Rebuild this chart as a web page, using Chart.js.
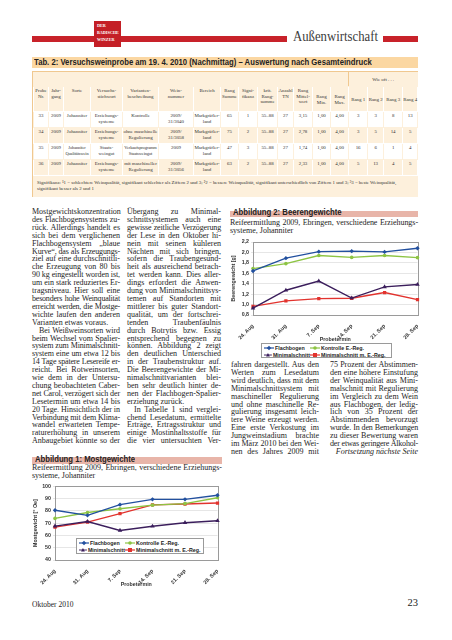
<!DOCTYPE html>
<html lang="de">
<head>
<meta charset="UTF-8">
<meta name="viewport" content="width=device-width, initial-scale=1.0">
<title>Außenwirtschaft – Mostgewichte und Beerengewichte</title>
<script src="https://cdn.jsdelivr.net/npm/chart.js"></script>
<style>
  body { margin: 0; width: 452px; height: 640px; position: relative; overflow: hidden; background: #fff; color: #222; font-family: "Liberation Serif", serif; }
  .abs { position: absolute; }
  .bar { position: absolute; top: 36px; height: 6px; background: #c8222a; }
  #logo { left: 94px; top: 21px; width: 27px; height: 26px; background: #c41f26; color: #fff; font: bold 4.2px/7px "Liberation Serif", serif; padding: 1px 0 0 3px; box-sizing: border-box; }
  .fit { white-space: nowrap; display: inline-block; transform-origin: left center; }
  #ressort { left: 293px; top: 28px; font: 15px "Liberation Serif", serif; color: #3c3c3c; }
  #tabtitle { left: 32px; top: 57px; width: 386px; height: 11px; background: #fbd7a2; font: bold 8.5px/11px "Liberation Sans", sans-serif; padding-left: 2px; box-sizing: border-box; }
  #tab { left: 32px; top: 71px; width: 386px; height: 126px; border: 1px solid #f0c890; box-sizing: border-box; background: #fdf0dc; }
  #tab table { border-collapse: collapse; table-layout: fixed; width: 384px; font: 4.9px/5.6px "Liberation Serif", serif; color: #333; }
  #tab td { border: 1px solid #fff; text-align: center; vertical-align: top; padding: 1px 0 0 0; white-space: nowrap; }
  #tab td.sm { font-size: 4.4px; letter-spacing: -0.1px; }
  #tab tr.w td { background: #fff; border-color: #fdf0dc; }
  #tab td.note { text-align: left; vertical-align: middle; padding: 0 3px; line-height: 6px; white-space: normal; }
  .fig { height: 10px; font: bold 9px/10px "Liberation Sans", sans-serif; color: #222; background: linear-gradient(to bottom, transparent 0, transparent 35%, #e8b5a9 35%, #e8b5a9 100%); padding-left: 3px; box-sizing: border-box; }
  .col { position: absolute; font-size: 8px; line-height: 7.9px; color: #1e1e1e; }
  .cap { font-size: 8px; line-height: 8.2px; }
  .ln { text-align: justify; text-align-last: justify; }
  .ln.end { text-align-last: left; }
  .ln.ind { text-indent: 7px; }
  .ln.right { text-align-last: right; font-style: italic; }
  .chartbox { position: absolute; }
  .legend { position: absolute; background: #fff; border: 1px solid #9a9a9a; box-sizing: border-box; display: grid; grid-template-columns: 46px auto; font: bold 5.3px/6.6px "Liberation Sans", sans-serif; color: #222; padding: 1px 0 0 2px; }
  .legend span { display: flex; align-items: center; white-space: nowrap; }
  .legend svg { margin-right: 1px; }
</style>
</head>
<body>
  <div class="bar" style="left:32px;width:255px"></div>
  <div class="bar" style="left:383px;width:35px"></div>
  <div id="logo" class="abs">DER<br>BADISCHE<br>WINZER</div>
  <div id="ressort" class="abs"><span class="fit" data-w="85">Außenwirtschaft</span></div>

  <div id="tabtitle" class="abs"><span class="fit" data-w="338">Tab. 2: Versuchsweinprobe am 19. 4. 2010 (Nachmittag) – Auswertung nach Gesamteindruck</span></div>
  <div id="tab" class="abs">
    <table>
      <colgroup>
        <col style="width:15px"><col style="width:15px"><col style="width:27px"><col style="width:32px"><col style="width:36px"><col style="width:35px"><col style="width:27px"><col style="width:18px"><col style="width:19px"><col style="width:20px"><col style="width:16px"><col style="width:19px"><col style="width:18px"><col style="width:18px"><col style="width:19px"><col style="width:16px"><col style="width:19px"><col style="width:15px">
      </colgroup>
      <tr style="height:14px"><td colspan="14" style="border-color:#fdf0dc;border-right-color:#f0c890"></td><td colspan="4" style="border-color:#fdf0dc;vertical-align:middle">Wie oft . . .</td></tr>
      <tr style="height:25px">
        <td>Probe<br>Nr.</td><td>Jahr-<br>gang</td><td>Sorte</td><td>Versuchs-<br>stichwort</td><td>Varianten-<br>beschreibung</td><td>Wein-<br>nummer</td><td>Bereich</td><td>Rang<br>Summe</td><td>Signi-<br>fikanz</td><td>krit.<br>Rang-<br>summe</td><td>Anzahl<br>TN</td><td>Rang<br>Mittel-<br>wert</td><td style="vertical-align:middle">Rang<br>Min.</td><td style="vertical-align:middle">Rang<br>Max.</td><td style="vertical-align:middle">Rang 1</td><td style="vertical-align:middle">Rang 2</td><td style="vertical-align:middle">Rang 3</td><td style="vertical-align:middle">Rang 4</td>
      </tr>
      <tr class="w" style="height:16px"><td>33</td><td>2009</td><td>Johanniter</td><td>Erziehungs-<br>systeme</td><td>Kontrolle</td><td>2009/<br>31/3040</td><td>Markgräfler-<br>land</td><td>65</td><td>1</td><td>55–88</td><td>27</td><td>3,15</td><td>1,00</td><td>4,00</td><td>3</td><td>3</td><td>8</td><td>13</td></tr>
      <tr style="height:16px"><td>34</td><td>2009</td><td>Johanniter</td><td>Erziehungs-<br>systeme</td><td>ohne maschinelle<br>Regulierung</td><td>2009/<br>31/3058</td><td>Markgräfler-<br>land</td><td>75</td><td>2</td><td>55–88</td><td>27</td><td>2,78</td><td>1,00</td><td>4,00</td><td>3</td><td>5</td><td>14</td><td>5</td></tr>
      <tr class="w" style="height:16px"><td>35</td><td>2009</td><td class="sm">Johanniter<br>Qualitätswein</td><td>Staats-<br>weingut</td><td class="sm">Verkaufsprogramm<br>Staatsweingut</td><td>2009</td><td>Markgräfler-<br>land</td><td>47</td><td>3</td><td>55–88</td><td>27</td><td>1,74</td><td>1,00</td><td>4,00</td><td>16</td><td>6</td><td>1</td><td>4</td></tr>
      <tr style="height:16px"><td>36</td><td>2009</td><td>Johanniter</td><td>Erziehungs-<br>systeme</td><td>mit maschineller<br>Regulierung</td><td>2009/<br>31/3056</td><td>Markgräfler-<br>land</td><td>63</td><td>2</td><td>55–88</td><td>27</td><td>2,33</td><td>1,00</td><td>4,00</td><td>5</td><td>13</td><td>4</td><td>5</td></tr>
      <tr style="height:21px"><td colspan="18" class="note" style="border-color:#fdf0dc">Signifikanz: ¹1 = schlechtere Weinqualität, signifikant schlechter als Ziffern 2 und 3; ²2 = bessere Weinqualität, signifikant unterschiedlich von Ziffern 1 und 3; ³3 = beste Weinqualität, signifikant besser als 2 und 1</td></tr>
    </table>
  </div>

  <div id="col1" class="col" style="left:32px;top:208px;width:88px"></div>
  <div id="col2" class="col" style="left:127px;top:208px;width:94px"></div>

  <div class="abs fig" style="left:230px;top:207px;width:188px"><span class="fit" data-w="109">Abbildung 2: Beerengewichte</span></div>
  <div id="cap2" class="col cap" style="left:230px;top:219px;width:188px"></div>
  <div class="chartbox" style="left:230px;top:236px;width:192px;height:107px"><canvas id="beeren"></canvas></div>
  <div id="leg2" class="legend" style="left:261px;top:343px;width:131px;height:15px"></div>
  <div id="col3" class="col" style="left:231px;top:361px;width:88px"></div>
  <div id="col4" class="col" style="left:330px;top:361px;width:88px"></div>

  <div class="abs fig" style="left:32px;top:454px;width:190px"><span class="fit" data-w="100">Abbildung 1: Mostgewichte</span></div>
  <div id="cap1" class="col cap" style="left:32px;top:464px;width:190px"></div>
  <div class="chartbox" style="left:32px;top:481px;width:190px;height:107px"><canvas id="most"></canvas></div>
  <div id="leg1" class="legend" style="left:76px;top:538px;width:128px;height:16px"></div>

  <div class="abs" style="left:32px;top:600px;font-size:7.5px">Oktober 2010</div>
  <div class="abs" style="left:398px;top:597px;width:20px;text-align:right;font-size:10.5px">23</div>

<script>
  // Probetermine und Reihen
  var dates = ['24. Aug', '31. Aug', '7. Sep', '14. Sep', '21. Sep', '28. Sep'];
  var seriesNames = ['Flachbogen', 'Kontrolle E.-Reg.', 'Minimalschnitt', 'Minimalschnitt m. E.-Reg.'];

  // Abbildung 1: Mostgewicht [° Oe]
  var mostFlachbogen = [80.4, 76.3, 85, 89.3, 89.3, 92.6];
  var mostKontrolle = [73.8, 78.6, 81.7, 84.6, 85.8, 90.6];
  var mostMinimal = [67.5, 71.3, 64, 67.4, 70.3, 71.9];
  var mostMinimalReg = [66.7, 70.8, 77.7, 84.8, 85.5, 86.3];
  var mostTicks = [40, 50, 60, 70, 80, 90, 100];

  // Abbildung 2: Beerengewicht [g]
  var beereFlachbogen = [1.645, 1.89, 2.015, 2.025, 2.01, 2.08];
  var beereKontrolle = [1.69, 1.785, 1.94, 1.905, 1.94, 1.9];
  var beereMinimal = [0.93, 1.275, 1.45, 1.125, 1.34, 1.385];
  var beereMinimalReg = [0.965, 1.07, 1.115, 1.12, 1.23, 1.095];
  var beereTicks = [0.8, 1.0, 1.2, 1.4, 1.6, 1.8, 2.0, 2.2];

  var colors = ['#22509f', '#8dc443', '#3b1e5c', '#e2332e'];
  var markers = ['rectRot', 'circle', 'triangle', 'rect'];
  var radii = [2.2, 1.8, 2.6, 2.3];

  // Fließtext, Zeile für Zeile wie im Satzspiegel ('>' = Einzug, '$' = Absatzende)
  var text1 = [
    'Mostgewichtskonzentration', 'des Flachbogensystems zu-', 'rück. Allerdings handelt es', 'sich bei dem verglichenen',
    'Flachbogensystem „blaue', 'Kurve“, das als Erzeugungs-', 'ziel auf eine durchschnittli-', 'che Erzeugung von 80 bis',
    '90 kg eingestellt worden ist,', 'um ein stark reduziertes Er-', 'tragsniveau. Hier soll eine', 'besonders hohe Weinqualität',
    'erreicht werden, die Mostge-', 'wichte laufen den anderen', 'Varianten etwas voraus.$', '>Bei Weißweinsorten wird',
    'beim Wechsel vom Spalier-', 'system zum Minimalschnitt-', 'system eine um etwa 12 bis', '14 Tage spätere Lesereife er-',
    'reicht. Bei Rotweinsorten,', 'wie dem in der Untersu-', 'chung beobachteten Caber-', 'net Carol, verzögert sich der',
    'Lesetermin um etwa 14 bis', '20 Tage. Hinsichtlich der in', 'Verbindung mit dem Klima-', 'wandel erwarteten Tempe-',
    'raturerhöhung in unserem', 'Anbaugebiet könnte so der'
  ];
  var text2 = [
    'Übergang zu Minimal-', 'schnittsystemen auch eine', 'gewisse zeitliche Verzögerung', 'der Lese in den Oktober hi-',
    'nein mit seinen kühleren', 'Nächten mit sich bringen,', 'sofern die Traubengesund-', 'heit als ausreichend betrach-',
    'tet werden kann. Dies aller-', 'dings erfordert die Anwen-', 'dung von Minimalschnittsys-', 'temen auf Standorten mit',
    'mittlerer bis guter Standort-', 'qualität, um der fortschrei-', 'tenden Traubenfäulnis', 'durch Botrytis bzw. Essig',
    'entsprechend begegnen zu', 'können. Abbildung 2 zeigt', 'den deutlichen Unterschied', 'in der Traubenstruktur auf.',
    'Die Beerengewichte der Mi-', 'nimalschnittvarianten blei-', 'ben sehr deutlich hinter de-', 'nen der Flachbogen-Spalier-',
    'erziehung zurück.$', '>In Tabelle 1 sind verglei-', 'chend Lesedatum, ermittelte', 'Erträge, Ertragsstruktur und',
    'einige Mostinhaltsstoffe für', 'die vier untersuchten Ver-'
  ];
  var text3 = [
    'fahren dargestellt. Aus den', 'Werten zum Lesedatum', 'wird deutlich, dass mit dem', 'Minimalschnittsystem mit',
    'maschineller Regulierung', 'und ohne maschinelle Re-', 'gulierung insgesamt leich-', 'tere Weine erzeugt werden.',
    'Eine erste Verkostung im', 'Jungweinstadium brachte', 'im März 2010 bei den Wei-', 'nen des Jahres 2009 mit'
  ];
  var text4 = [
    '75 Prozent der Abstimmen-', 'den eine höhere Einstufung', 'der Weinqualität aus Mini-', 'malschnitt mit Regulierung',
    'im Vergleich zu dem Wein', 'aus Flachbogen, der ledig-', 'lich von 35 Prozent der', 'Abstimmenden bevorzugt',
    'wurde. In den Bemerkungen', 'zu dieser Bewertung waren', 'der etwas geringere Alkohol-', '<Fortsetzung nächste Seite'
  ];
  var caption = ['Reifeermittlung 2009, Ebringen, verschiedene Erziehungs-', 'systeme, Johanniter$'];

  function fillColumn(id, lines) {
    var box = document.getElementById(id);
    lines.forEach(function(t) {
      var d = document.createElement('div');
      d.className = 'ln';
      if (t.charAt(0) == '>') { d.className += ' ind'; t = t.slice(1); }
      if (t.charAt(0) == '<') { d.className += ' right'; t = t.slice(1); }
      if (t.slice(-1) == '$') { d.className += ' end'; t = t.slice(0, -1); }
      d.textContent = t;
      box.appendChild(d);
    });
  }
  fillColumn('col1', text1);
  fillColumn('col2', text2);
  fillColumn('col3', text3);
  fillColumn('col4', text4);
  fillColumn('cap1', caption);
  fillColumn('cap2', caption);

  // zu lange Zeilen etwas enger setzen, damit der Umbruch bleibt
  document.querySelectorAll('.ln').forEach(function(el) {
    var lh = parseFloat(getComputedStyle(el).lineHeight);
    var ls = 0;
    while (el.offsetHeight > lh * 1.5 && ls > -1) {
      ls -= 0.05;
      el.style.letterSpacing = ls + 'px';
    }
  });
  document.querySelectorAll('.fit').forEach(function(el) {
    el.style.transform = 'scaleX(' + (el.dataset.w / el.scrollWidth) + ')';
  });

  function markerSvg(color, style) {
    var s = '<svg width="10" height="6" viewBox="0 0 10 6"><line x1="0" y1="3" x2="10" y2="3" stroke="' + color + '" stroke-width="1.2"/>';
    if (style == 'rectRot') s += '<path d="M5 0.8L7.2 3L5 5.2L2.8 3Z" fill="' + color + '"/>';
    if (style == 'circle') s += '<circle cx="5" cy="3" r="1.8" fill="' + color + '"/>';
    if (style == 'triangle') s += '<path d="M5 0.6L7.4 5H2.6Z" fill="' + color + '"/>';
    if (style == 'rect') s += '<rect x="3" y="1" width="4" height="4" fill="' + color + '"/>';
    return s + '</svg>';
  }
  function buildLegend(id) {
    var el = document.getElementById(id);
    seriesNames.forEach(function(name, i) {
      var sp = document.createElement('span');
      sp.innerHTML = markerSvg(colors[i], markers[i]);
      sp.appendChild(document.createTextNode(name));
      el.appendChild(sp);
    });
  }
  buildLegend('leg1');
  buildLegend('leg2');

  var frame = {
    id: 'frame',
    beforeDatasetsDraw: function(chart) {
      var a = chart.chartArea, c = chart.ctx;
      c.save();
      c.strokeStyle = '#9a9a9a';
      c.lineWidth = 1;
      c.strokeRect(Math.round(a.left) + 0.5, Math.round(a.top) + 0.5, Math.round(a.right - a.left), Math.round(a.bottom - a.top));
      c.restore();
    }
  };

  var tickFont = { family: 'Liberation Sans', size: 5.3, weight: 'bold' };

  function lineChart(id, sets, ticks, fmt, yTitle, pad) {
    return new Chart(document.getElementById(id), {
      type: 'line',
      data: {
        labels: dates,
        datasets: sets.map(function(d, i) {
          return {
            label: seriesNames[i], data: d,
            borderColor: colors[i], backgroundColor: colors[i],
            pointStyle: markers[i], pointRadius: radii[i], pointBorderWidth: 0,
            borderWidth: 1.4, tension: 0, clip: 5
          };
        })
      },
      options: {
        responsive: true, maintainAspectRatio: false, animation: false,
        layout: { padding: pad },
        plugins: { legend: { display: false }, tooltip: { enabled: false } },
        scales: {
          x: {
            grid: { display: false }, border: { display: false },
            ticks: { autoSkip: false, minRotation: 45, maxRotation: 45, font: tickFont, color: '#333', padding: 0 },
            title: { display: true, text: 'Probetermin', font: tickFont, color: '#333', padding: 0 },
            afterFit: function(s) { s.height = 28; }
          },
          y: {
            min: ticks[0], max: ticks[ticks.length - 1],
            ticks: { stepSize: ticks[1] - ticks[0], font: tickFont, color: '#333', padding: 2, callback: fmt },
            grid: { color: '#e6e6e6', tickLength: 2 }, border: { display: false },
            title: { display: true, text: yTitle, font: tickFont, color: '#333', padding: 0 },
            afterFit: function(s) { s.width = 23; }
          }
        }
      },
      plugins: [frame]
    });
  }

  lineChart('most', [mostFlachbogen, mostKontrolle, mostMinimal, mostMinimalReg], mostTicks,
    function(v) { return v; }, 'Mostgewicht [° Oe]', { top: 5, right: 2 });
  lineChart('beeren', [beereFlachbogen, beereKontrolle, beereMinimal, beereMinimalReg], beereTicks,
    function(v) { return v.toFixed(1).replace('.', ','); }, 'Beerengewicht [g]', { top: 6, right: 2 });
</script>
</body>
</html>
